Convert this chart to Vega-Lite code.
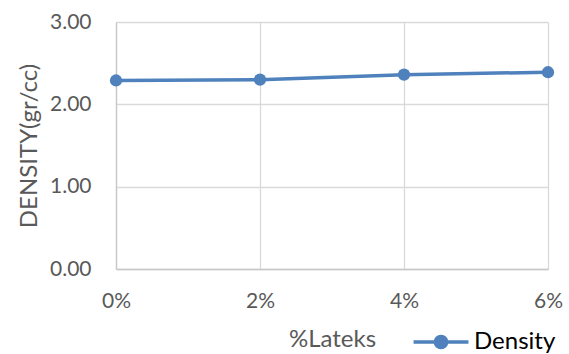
{
  "$schema": "https://vega.github.io/schema/vega-lite/v6.json",
  "autosize": {"type": "none"},
  "width": 432,
  "height": 247,
  "padding": {"left": 116, "top": 22, "right": 21, "bottom": 85},
  "background": "white",
  "data": {
    "values": [
      {"lateks": 0, "density": 2.29, "series": "Density"},
      {"lateks": 2, "density": 2.30, "series": "Density"},
      {"lateks": 4, "density": 2.36, "series": "Density"},
      {"lateks": 6, "density": 2.39, "series": "Density"}
    ]
  },
  "config": {
    "view": {"stroke": null},
    "font": "Lato",
    "axis": {
      "labelFont": "Lato",
      "titleFont": "Lato",
      "labelColor": "#595959",
      "titleColor": "#595959",
      "titleFontWeight": "normal",
      "gridColor": "#d9d9d9",
      "gridWidth": 1.3,
      "domainColor": "#c8c8c8",
      "domainWidth": 1.3,
      "ticks": false
    }
  },
  "encoding": {
    "x": {
      "field": "lateks",
      "type": "quantitative",
      "scale": {"domain": [0, 6], "nice": false, "zero": true},
      "axis": {
        "values": [0, 2, 4, 6],
        "labelExpr": "datum.value + '%'",
        "title": "%Lateks",
        "labelFontSize": 21,
        "titleFontSize": 24,
        "labelPadding": 21,
        "titlePadding": 16,
        "grid": true,
        "labelFlush": false
      }
    },
    "y": {
      "field": "density",
      "type": "quantitative",
      "scale": {"domain": [0, 3], "nice": false},
      "axis": {
        "values": [0, 1, 2, 3],
        "format": ".2f",
        "title": "DENSITY(gr/cc)",
        "labelFontSize": 21,
        "titleFontSize": 24,
        "labelPadding": 25,
        "titlePadding": 8,
        "grid": true
      }
    },
    "color": {
      "field": "series",
      "type": "nominal",
      "scale": {"domain": ["Density"], "range": ["#4f81bd"]},
      "legend": {
        "orient": "none",
        "legendX": 309,
        "legendY": 304,
        "padding": 0,
        "title": null,
        "symbolType": "M-1.96,0H1.96M-0.4,0A0.4,0.4 0 1,1 0.4,0A0.4,0.4 0 1,1 -0.4,0Z",
        "symbolSize": 784,
        "symbolStrokeWidth": 3.5,
        "symbolFillColor": "#4f81bd",
        "symbolStrokeColor": "#4f81bd",
        "symbolOpacity": 1,
        "labelFont": "Lato",
        "labelFontSize": 24,
        "labelColor": "#000000",
        "labelOffset": 17
      }
    }
  },
  "layer": [
    {"mark": {"type": "line", "strokeWidth": 3.5}},
    {"mark": {"type": "point", "shape": "circle", "filled": true, "opacity": 1, "size": 150}}
  ]
}
